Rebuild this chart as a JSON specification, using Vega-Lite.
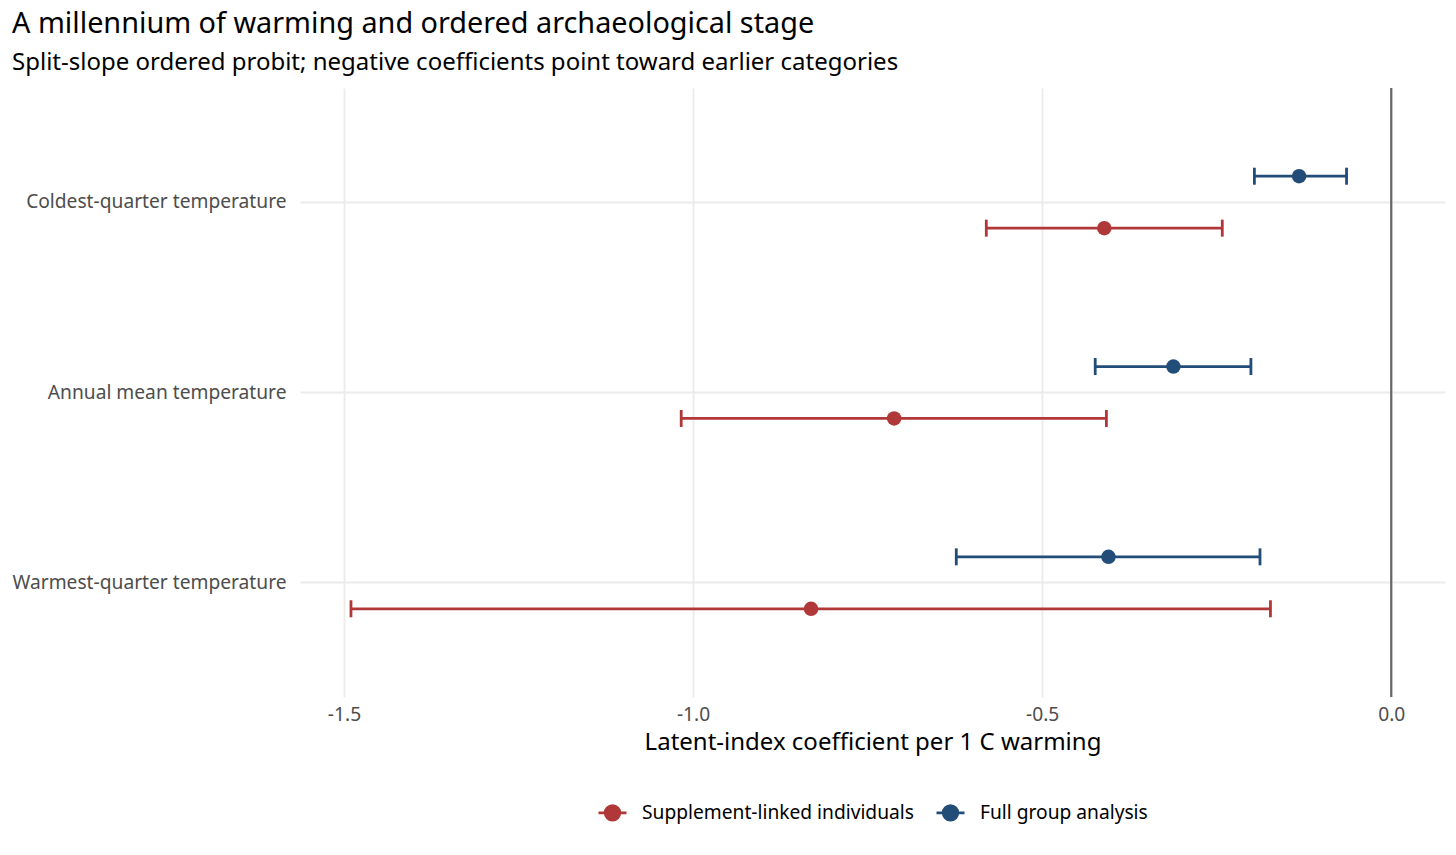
{
  "$schema": "https://vega.github.io/schema/vega-lite/v6.json",
  "width": 1145,
  "height": 609,
  "padding": {"left": 12, "top": 10, "right": 11, "bottom": 10},
  "background": "white",
  "config": {
    "font": "Noto Sans",
    "view": {"stroke": null},
    "axis": {"domain": false, "ticks": false, "gridColor": "#ebebeb", "gridWidth": 1.8, "labelColor": "#4d4d4d", "labelFontSize": 19.2, "labelFont": "Noto Sans"},
    "legend": {"layout": {"bottom": {"anchor": "middle"}}}
  },
  "title": {
    "text": "A millennium of warming and ordered archaeological stage",
    "subtitle": "Split-slope ordered probit; negative coefficients point toward earlier categories",
    "anchor": "start",
    "frame": "bounds",
    "offset": 12,
    "fontSize": 28.8,
    "fontWeight": "normal",
    "subtitleFontSize": 24,
    "subtitleColor": "black",
    "subtitlePadding": 12,
    "color": "black",
    "font": "Noto Sans",
    "subtitleFont": "Noto Sans"
  },
  "data": {
    "values": [
      {"measure": "Coldest-quarter temperature", "group": "Full group analysis", "est": -0.132, "lo": -0.196, "hi": -0.064},
      {"measure": "Coldest-quarter temperature", "group": "Supplement-linked individuals", "est": -0.411, "lo": -0.58, "hi": -0.242},
      {"measure": "Annual mean temperature", "group": "Full group analysis", "est": -0.312, "lo": -0.424, "hi": -0.201},
      {"measure": "Annual mean temperature", "group": "Supplement-linked individuals", "est": -0.712, "lo": -1.017, "hi": -0.408},
      {"measure": "Warmest-quarter temperature", "group": "Full group analysis", "est": -0.405, "lo": -0.623, "hi": -0.188},
      {"measure": "Warmest-quarter temperature", "group": "Supplement-linked individuals", "est": -0.831, "lo": -1.49, "hi": -0.173}
    ]
  },
  "encoding": {
    "y": {
      "field": "measure", "type": "nominal",
      "sort": ["Coldest-quarter temperature", "Annual mean temperature", "Warmest-quarter temperature"],
      "scale": {"paddingInner": 0, "paddingOuter": 0.1},
      "axis": {"title": null, "labelPadding": 14, "labelLimit": 0, "grid": true, "bandPosition": 0.5}
    },
    "yOffset": {
      "field": "group", "type": "nominal",
      "sort": ["Full group analysis", "Supplement-linked individuals"],
      "scale": {"paddingInner": 0, "paddingOuter": 0.832}
    },
    "color": {
      "field": "group", "type": "nominal",
      "sort": ["Supplement-linked individuals", "Full group analysis"],
      "scale": {"domain": ["Supplement-linked individuals", "Full group analysis"], "range": ["#B03838", "#224D78"]},
      "legend": {
        "title": null,
        "orient": "bottom",
        "direction": "horizontal",
        "labelFontSize": 19.2,
        "labelColor": "black",
        "labelLimit": 0,
        "symbolType": "M-1,0L1,0M-0.52,0A0.52,0.52,0,1,1,0.52,0A0.52,0.52,0,1,1,-0.52,0Z",
        "symbolSize": 784,
        "symbolStrokeWidth": 2.8,
        "columnPadding": 16,
        "labelOffset": 14,
        "offset": 42,
        "encode": {"symbols": {"update": {"stroke": {"scale": "color", "field": "value"}, "fill": {"scale": "color", "field": "value"}, "opacity": {"value": 1}}}}
      }
    }
  },
  "layer": [
    {
      "mark": {"type": "rule", "strokeWidth": 2.8},
      "encoding": {
        "x": {
          "field": "lo", "type": "quantitative",
          "scale": {"domain": [-1.563, 0.077], "nice": false, "zero": false},
          "axis": {"title": "Latent-index coefficient per 1 C warming", "titleFontSize": 24, "titleFontWeight": "normal", "titleColor": "black", "titleFont": "Noto Sans", "values": [-1.5, -1.0, -0.5, 0.0], "format": ".1f", "labelExpr": "replace(datum.label, '\u2212', '-')", "labelPadding": 8, "titlePadding": 6}
        },
        "x2": {"field": "hi"}
      }
    },
    {
      "mark": {"type": "tick", "orient": "vertical", "size": 17, "thickness": 2.8, "opacity": 1},
      "encoding": {"x": {"field": "lo", "type": "quantitative"}}
    },
    {
      "mark": {"type": "tick", "orient": "vertical", "size": 17, "thickness": 2.8, "opacity": 1},
      "encoding": {"x": {"field": "hi", "type": "quantitative"}}
    },
    {
      "mark": {"type": "point", "filled": true, "opacity": 1, "size": 210, "shape": "circle"},
      "encoding": {"x": {"field": "est", "type": "quantitative"}}
    },
    {
      "data": {"values": [{"zero": 0}]},
      "mark": {"type": "rule", "color": "#666666", "strokeWidth": 2.2},
      "encoding": {"x": {"field": "zero", "type": "quantitative"}, "y": null, "yOffset": null, "color": null}
    }
  ]
}
